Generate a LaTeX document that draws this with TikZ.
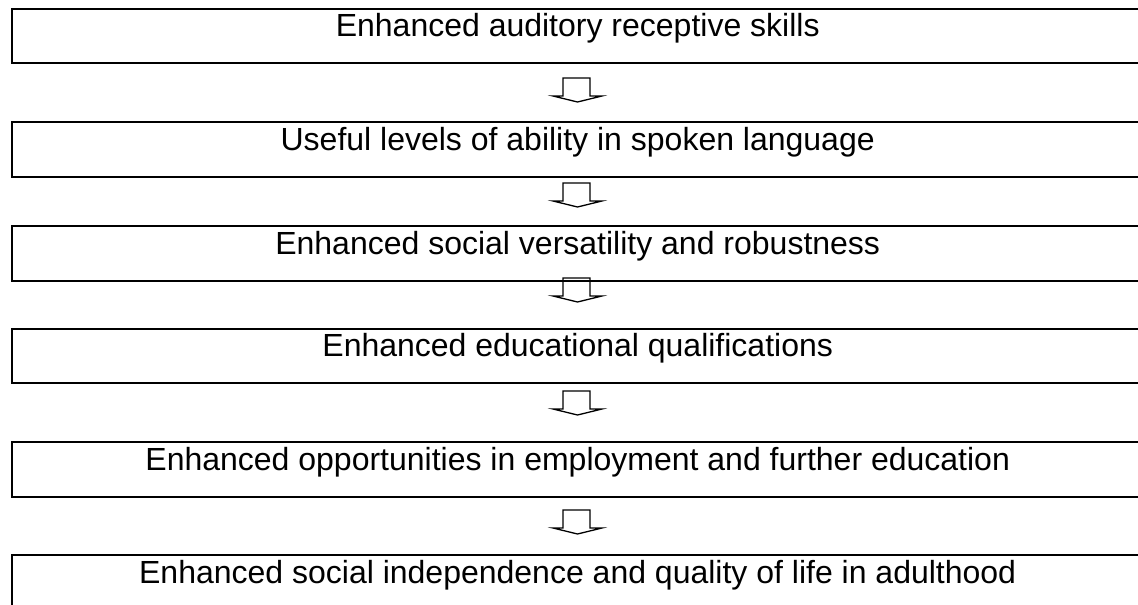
\documentclass[tikz,border=0pt]{standalone}
\usepackage{fontspec}
\setmainfont{Liberation Sans}
\newcommand\flowarrow[1]{%
  \draw[blk] (563,#1) -- (590,#1) -- (590,{#1+18}) -- (602,{#1+18}) -- (577.5,{#1+24}) -- (553,{#1+18}) -- (563,{#1+18}) -- cycle;}
\begin{document}
\begin{tikzpicture}[x=1pt,y=-1pt,
  box/.style={draw,line width=2pt,minimum width=1135pt,minimum height=54.6pt,anchor=north west,inner sep=0pt},
  lbl/.style={anchor=base,font=\fontsize{32}{38}\selectfont,inner sep=0pt},
  blk/.style={draw,line width=1.3pt,line join=miter}]
\useasboundingbox (0,0) rectangle (1138,605);
\clip (0,0) rectangle (1138,605);
\node[box] (b1) at (10.7,7.7) {};
\node[box] (b2) at (10.7,121) {};
\node[box] (b3) at (10.7,225) {};
\node[box] (b4) at (10.7,327.7) {};
\node[box] (b5) at (10.7,441.3) {};
\node[box] (b6) at (10.7,554.3) {};
\node[lbl] (t1) at (577.7,36.7) {Enhanced auditory receptive skills};
\node[lbl] (t2) at (577.7,150) {Useful levels of ability in spoken language};
\node[lbl] (t3) at (577.7,254) {Enhanced social versatility and robustness};
\node[lbl] (t4) at (577.7,356.7) {Enhanced educational qualifications};
\node[lbl] (t5) at (577.7,470.3) {Enhanced opportunities in employment and further education};
\node[lbl] (t6) at (577.7,583.3) {Enhanced social independence and quality of life in adulthood};
\flowarrow{78}
\flowarrow{183}
\flowarrow{278}
\flowarrow{391}
\flowarrow{510}
\end{tikzpicture}
\end{document}
